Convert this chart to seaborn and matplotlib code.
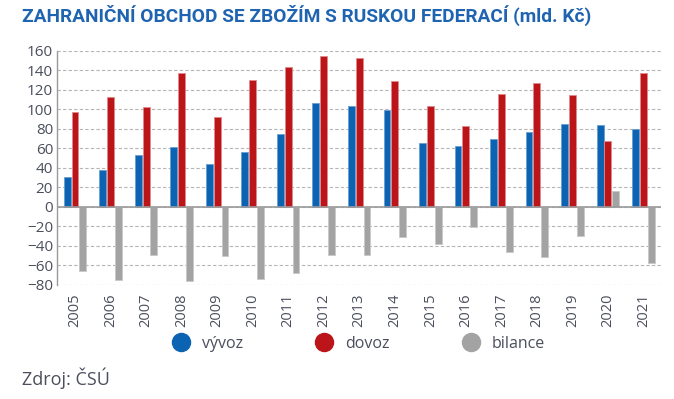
import matplotlib
matplotlib.use("Agg")
import matplotlib.pyplot as plt
from matplotlib.lines import Line2D
import pandas as pd
import seaborn as sns

# hodnoty v mld. Kč
roky = ["2005", "2006", "2007", "2008", "2009", "2010", "2011", "2012", "2013",
        "2014", "2015", "2016", "2017", "2018", "2019", "2020", "2021"]
vyvoz = [31, 38, 53, 61, 44, 56, 75, 106, 103, 99, 65, 62, 70, 77, 85, 84, 80]
dovoz = [97, 113, 102, 137, 92, 130, 143, 155, 152, 129, 103, 83, 116, 127, 115, 67, 137]
bilance = [-66, -75, -49, -76, -50, -74, -68, -49, -49, -31, -38, -21, -46, -51, -30, 16, -58]

serie = ["vývoz", "dovoz", "bilance"]
barvy = ["#0b63b1", "#bb1419", "#a3a3a3"]
okraje = ["#6a9fd3", "#e0898b", "#c8c8c8"]
yticks = [-80, -60, -40, -20, 0, 20, 40, 60, 80, 100, 120, 140, 160]

df = pd.DataFrame({
    "rok": roky * 3,
    "ukazatel": [serie[0]] * len(roky) + [serie[1]] * len(roky) + [serie[2]] * len(roky),
    "hodnota": vyvoz + dovoz + bilance,
})

sns.set_style("white")
plt.rcParams["font.family"] = ["Open Sans", "DejaVu Sans"]
text_color = "#4b4f5c"

fig = plt.figure(figsize=(6.74, 3.99), dpi=100)
ax = fig.add_axes([0.085, 0.286, 0.896, 0.587])

sns.barplot(data=df, x="rok", y="hodnota", hue="ukazatel", hue_order=serie,
            palette=barvy, width=0.66, gap=0.12, saturation=1, legend=False,
            ax=ax, zorder=3)

# světlejší lem sloupců jako v originále
for cont, edge in zip(ax.containers, okraje):
    for bar in cont:
        bar.set_edgecolor(edge)
        bar.set_linewidth(0.6)

ax.set_ylim(-80, 160)
ax.set_xlim(-0.5, len(roky) - 0.5)
ax.set_yticks(yticks)
ax.set_yticklabels([f"{v}".replace("-", "\u2212") for v in yticks])
ax.grid(axis="y", color="#b5b5b5", linestyle=(0, (3, 2)), linewidth=0.8, zorder=0)
ax.axhline(0, color="#9a9a9a", linewidth=1.2, zorder=4)
for s in ["top", "right", "bottom"]:
    ax.spines[s].set_visible(False)
ax.spines["left"].set_color("#9a9a9a")
ax.spines["left"].set_linewidth(1.0)
ax.tick_params(axis="y", length=0, pad=3, labelsize=11, labelcolor=text_color)
ax.tick_params(axis="x", length=0, pad=6, labelsize=10.5, labelcolor=text_color,
               rotation=90)
ax.set_xlabel("")
ax.set_ylabel("")

fig.text(0.033, 0.962, "ZAHRANIČNÍ OBCHOD SE ZBOŽÍM S RUSKOU FEDERACÍ (mld. Kč)",
         fontsize=13.8, fontweight="bold", color="#1f64b1", va="center",
         family=["Roboto", "DejaVu Sans"])

handles = [Line2D([], [], marker="o", linestyle="", markersize=13,
                  markerfacecolor=c, markeredgecolor=c, label=s)
           for s, c in zip(serie, barvy)]
fig.legend(handles=handles, loc="center", bbox_to_anchor=(0.527, 0.138), ncol=3,
           frameon=False, fontsize=11.5, labelcolor=text_color, handletextpad=0.3,
           columnspacing=4.1)

fig.text(0.033, 0.052, "Zdroj: ČSÚ", fontsize=13, color=text_color, va="center")

fig.savefig("out.png", dpi=100)
